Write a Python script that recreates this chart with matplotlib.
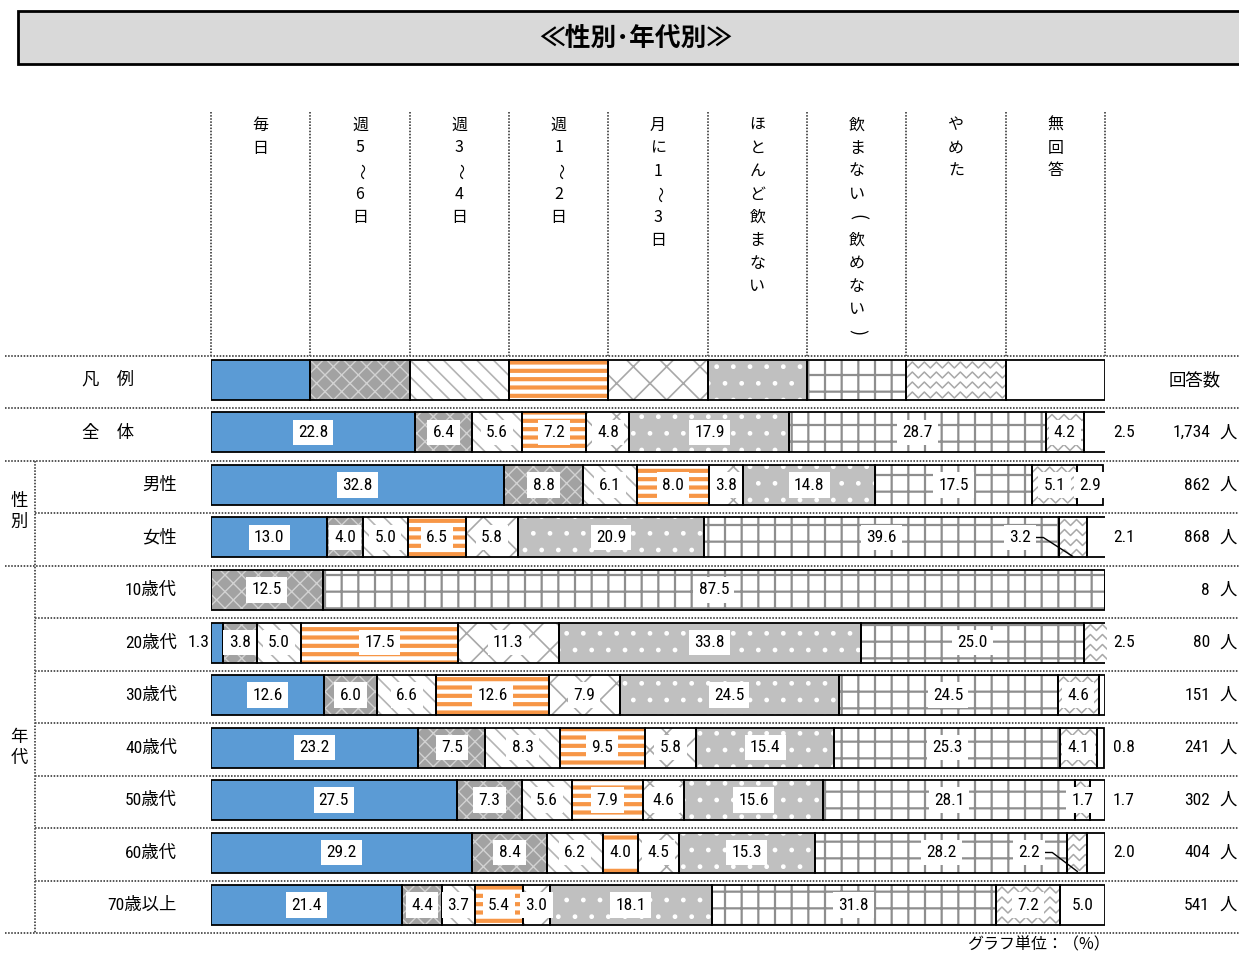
import numpy as np
import matplotlib
matplotlib.use('Agg')
import matplotlib.pyplot as plt
from matplotlib.patches import Rectangle
from matplotlib import font_manager as fm

# fonts: a narrow latin face for numbers if one is installed, CJK face for Japanese
fonts = fm.fontManager.ttflist
installed = {f.name for f in fonts}
NUM, NUM_STRETCH = 'Liberation Sans', 'normal'
for cand in ['Liberation Sans Narrow', 'Roboto Condensed', 'Open Sans Condensed']:
    if cand in installed:
        NUM = cand
        break
else:
    if any(f.name == 'DejaVu Sans' and f.stretch == 'condensed' for f in fonts):
        NUM, NUM_STRETCH = 'DejaVu Sans', 'condensed'
JP = 'Noto Sans CJK JP'
plt.rcParams['font.family'] = [JP, 'DejaVu Sans']

# ---- data ----
categories = ['毎日', '週5～6日', '週3～4日', '週1～2日', '月に1～3日',
              'ほとんど飲まない', '飲まない（飲めない）', 'やめた', '無回答']
row_names = ['全　体', '男性', '女性', '10歳代', '20歳代', '30歳代',
             '40歳代', '50歳代', '60歳代', '70歳以上']
counts = ['1,734', '862', '868', '8', '80', '151', '241', '302', '404', '541']

total = [22.8, 6.4, 5.6, 7.2, 4.8, 17.9, 28.7, 4.2, 2.5]
male = [32.8, 8.8, 6.1, 8.0, 3.8, 14.8, 17.5, 5.1, 2.9]
female = [13.0, 4.0, 5.0, 6.5, 5.8, 20.9, 39.6, 3.2, 2.1]
age10 = [0, 12.5, 0, 0, 0, 0, 87.5, 0, 0]
age20 = [1.3, 3.8, 5.0, 17.5, 11.3, 33.8, 25.0, 2.5, 0]
age30 = [12.6, 6.0, 6.6, 12.6, 7.9, 24.5, 24.5, 4.6, 0.7]
age40 = [23.2, 7.5, 8.3, 9.5, 5.8, 15.4, 25.3, 4.1, 0.8]
age50 = [27.5, 7.3, 5.6, 7.9, 4.6, 15.6, 28.1, 1.7, 1.7]
age60 = [29.2, 8.4, 6.2, 4.0, 4.5, 15.3, 28.2, 2.2, 2.0]
age70 = [21.4, 4.4, 3.7, 5.4, 3.0, 18.1, 31.8, 7.2, 5.0]
data = np.array([total, male, female, age10, age20, age30, age40, age50, age60, age70])

# labels drawn somewhere other than the segment centre (row index, category index)
label_mode = {(0, 8): 'right', (2, 8): 'right', (4, 7): 'right', (4, 0): 'left',
              (6, 8): 'right', (7, 8): 'right', (8, 8): 'right',
              (2, 7): 'leader', (8, 7): 'leader', (5, 8): 'none'}

# fill styles of the nine answers
styles = [
    dict(face='#5b9bd5', hatch=None, hc='none', hlw=1.0),
    dict(face='#a2a2a2', hatch='xx', hc='#d2d2d2', hlw=1.0),
    dict(face='white', hatch='\\\\', hc='#b4b4b4', hlw=1.2),
    dict(face='white', hatch='--', hc='#f79646', hlw=3.0),
    dict(face='white', hatch='x', hc='#a8a8a8', hlw=1.2),
    dict(face='#c0c0c0', hatch='.', hc='white', hlw=1.0),
    dict(face='white', hatch='+', hc='#8e8e8e', hlw=1.6),
    dict(face='white', hatch=None, hc='none', hlw=1.0, zigzag='#a8a8a8'),
    dict(face='white', hatch=None, hc='none', hlw=1.0),
]

# ---- layout (pixels) ----
W, H = 1239, 955
X0, X1 = 211, 1105
ROW0, STEP = 380, 52.5
BH = 40 / STEP
SEP_OFF = 2

fig = plt.figure(figsize=(W / 100, H / 100), dpi=100)
bg = fig.add_axes([0, 0, 1, 1])
bg.set_xlim(0, W)
bg.set_ylim(H, 0)
bg.axis('off')

top_px = ROW0 - STEP / 2
bot_px = ROW0 + STEP * 10.5
ax = fig.add_axes([X0 / W, 1 - bot_px / H, (X1 - X0) / W, (bot_px - top_px) / H])
ax.set_xlim(0, 100)
ax.set_ylim(10.5, -0.5)
ax.axis('off')

def row_px(r):
    return ROW0 + STEP * r

numkw = dict(family=[NUM, JP], fontstretch=NUM_STRETCH)

# title box
bg.add_patch(Rectangle((18, 11), 1260, 53, facecolor='#d9d9d9', edgecolor='black', lw=2))
bg.text(636, 38, '≪性別･年代別≫', ha='center', va='center', fontsize=18.5, fontweight='bold')

# header columns with vertical text (brackets and wave dash turned as in vertical writing)
colw = (X1 - X0) / 9
dot = dict(color='#555555', lw=1.4, ls=(0, (0.8, 0.8)))
turned = {'（': '(', '）': ')', '～': '～'}
for k in range(10):
    bg.plot([X0 + k * colw] * 2, [112, row_px(-0.5) + SEP_OFF], **dot)
for j, name in enumerate(categories):
    cx = X0 + (j + 0.5) * colw
    for i, ch in enumerate(name):
        rot = -90 if ch in turned else 0
        bg.text(cx, 125 + 23 * i, turned.get(ch, ch), ha='center', va='center',
                rotation=rot, rotation_mode='anchor',
                fontsize=13 if ch in '（）' else 11.5, family=[JP, 'DejaVu Sans'])

# horizontal separators
full_rows = [0, 1, 2, 4, 11]
for r in range(12):
    y = row_px(r - 0.5) + SEP_OFF
    bg.plot([5 if r in full_rows else 35, W], [y, y], **dot)
bg.plot([35, 35], [row_px(1.5) + SEP_OFF, row_px(10.5) + SEP_OFF], **dot)

# left / right labels
bg.text(108, row_px(0), '凡　例', ha='center', va='center', fontsize=12.5)
bg.text(1195, row_px(0), '回答数', ha='center', va='center', fontsize=12.5)
bg.text(19, row_px(2.5), '性\n別', ha='center', va='center', fontsize=12.5, linespacing=1.2)
bg.text(19, row_px(7), '年\n代', ha='center', va='center', fontsize=12.5, linespacing=1.2)
for i, name in enumerate(row_names):
    if i == 0:
        bg.text(108, row_px(1), name, ha='center', va='center', fontsize=12.5)
    else:
        bg.text(177, row_px(i + 1), name, ha='right', va='center', fontsize=12.5, **numkw)
    bg.text(1210, row_px(i + 1), counts[i], ha='right', va='center', fontsize=12.5, **numkw)
    bg.text(1219, row_px(i + 1), '人', ha='left', va='center', fontsize=12.5)
bg.text(1110, 945, 'グラフ単位：（%）', ha='right', va='center', fontsize=11.5)

# ---- bars ----
legend_vals = np.full(9, 100 / 9)
plot_vals = np.vstack([legend_vals, data])
ypos = np.arange(len(plot_vals))
px_x = (X1 - X0) / 100

def draw_zigzag(rect, color):
    x0, y0 = rect.get_x(), rect.get_y()
    w, h = rect.get_width(), rect.get_height()
    per, amp, gap = 12 / px_x, 3 / STEP, 10 / STEP
    xs = np.arange(x0 - per, x0 + w + per, per / 2)
    sign = np.where(np.arange(len(xs)) % 2 == 0, 1, -1)
    for yc in np.arange(y0 + gap / 2, y0 + h + gap, gap):
        ln, = ax.plot(xs, yc + amp * sign, color=color, lw=1.1, zorder=1.5)
        ln.set_clip_path(rect)

left = np.zeros(len(plot_vals))
for j, st in enumerate(styles):
    vals = plot_vals[:, j]
    with plt.rc_context({'hatch.linewidth': st['hlw']}):
        bars = ax.barh(ypos, vals, left=left, height=BH, color=st['face'],
                       edgecolor=st['hc'], hatch=st['hatch'], linewidth=0, zorder=1)
        for p in bars.patches:
            if hasattr(p, 'set_hatch_linewidth'):
                p.set_hatch_linewidth(st['hlw'])
    if 'zigzag' in st:
        for p, v in zip(bars.patches, vals):
            if v > 0:
                draw_zigzag(p, st['zigzag'])
    ax.barh(ypos, vals, left=left, height=BH, fill=False, edgecolor='black',
            linewidth=1.3, zorder=2)
    left = left + vals

# value labels
box = dict(boxstyle='square,pad=0.3', fc='white', ec='none')
cum = np.cumsum(data, axis=1) - data
for i in range(data.shape[0]):
    y = i + 1
    for j in range(data.shape[1]):
        v = data[i, j]
        if v <= 0:
            continue
        mode = label_mode.get((i, j), 'center')
        txt = f'{v:.1f}'
        kw = dict(va='center', fontsize=12.5, zorder=4, **numkw)
        if mode == 'center':
            ax.text(cum[i, j] + v / 2, y, txt, ha='center', bbox=box, **kw)
        elif mode == 'right':
            ax.text(100.9, y, txt, ha='left', clip_on=False, **kw)
        elif mode == 'left':
            ax.text(-0.2, y, txt, ha='right', clip_on=False, **kw)
        elif mode == 'leader':
            lx = cum[i, j] - 4.3
            ax.text(lx, y, txt, ha='center', bbox=box, **kw)
            ax.plot([lx + 1.3, lx + 2.6, cum[i, j] + v / 2], [y, y, y + 0.36],
                    color='black', lw=1, zorder=3)

fig.savefig('out.png', dpi=100)
